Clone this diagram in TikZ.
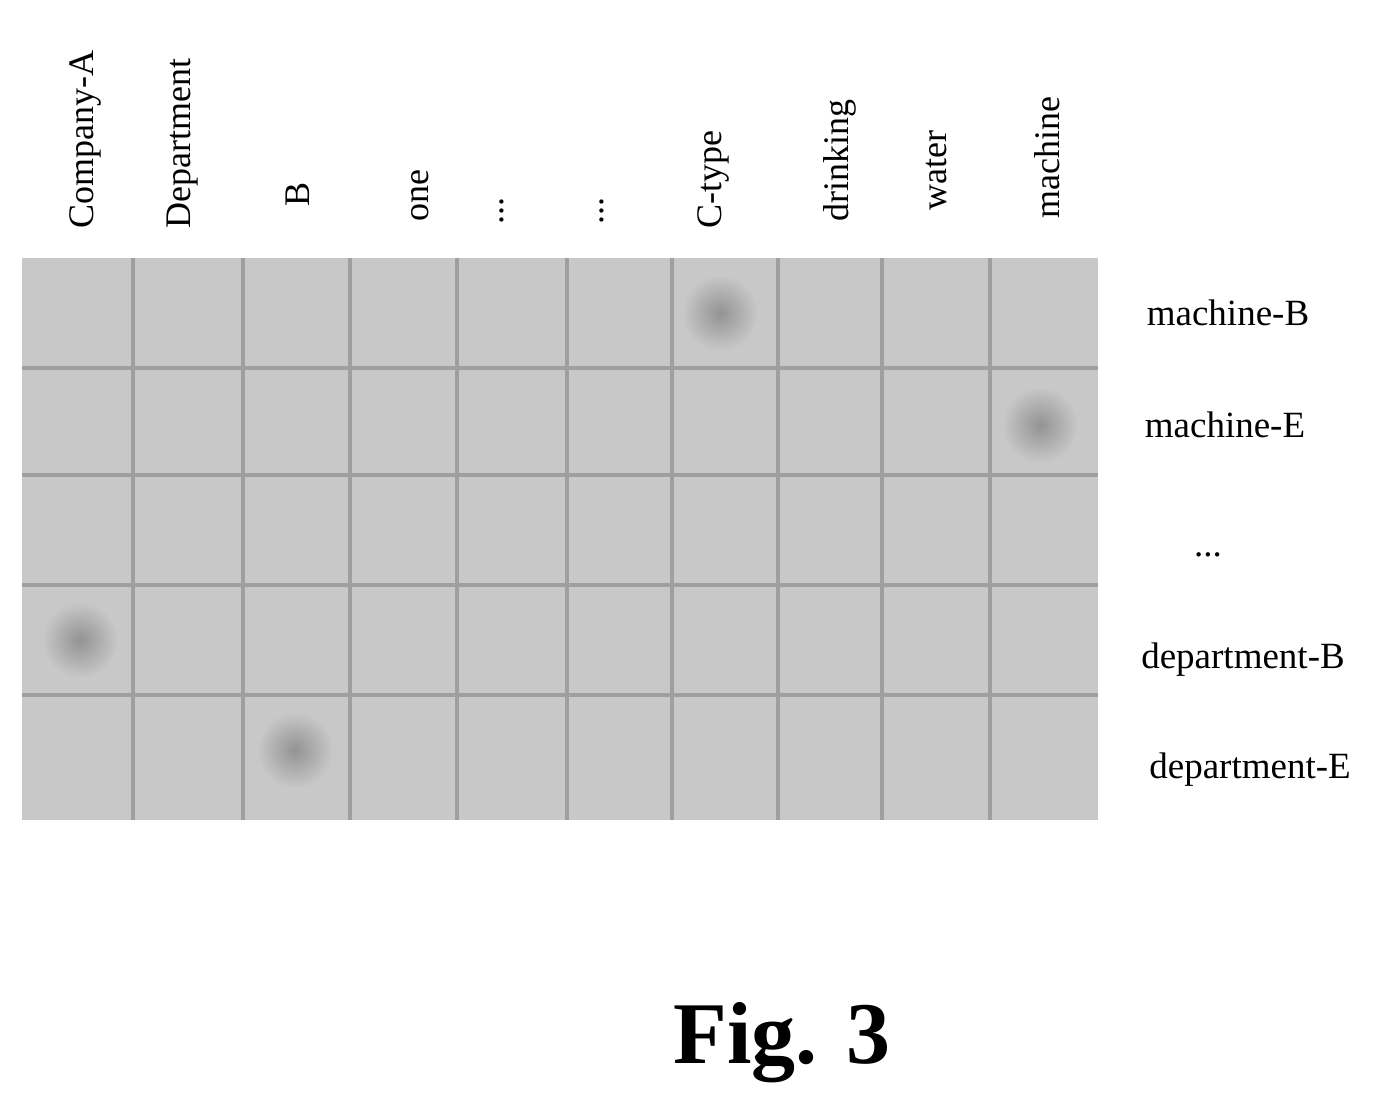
\documentclass[tikz,border=0pt]{standalone}
\usepackage{fontspec}
\setmainfont{Liberation Serif}
\begin{document}
\begin{tikzpicture}[x=1pt,y=-1pt,
  collab/.style={rotate=90,anchor=west,font=\fontsize{36}{40}\selectfont},
  rowlab/.style={font=\fontsize{37}{42}\selectfont},
  gridline/.style={draw=gray!75,line width=4pt}]
\useasboundingbox (0,0) rectangle (1382,1105);
\definecolor{cellgray}{RGB}{200,200,200}
\fill[cellgray] (22,258) rectangle (1098,820);
% dark spots
\foreach \cx/\cy in {720/313, 1040/425, 80/640, 295/750}
  \shade[inner color=gray!85, outer color=cellgray] (\cx,\cy) circle (38);
\foreach \gx in {133,243,350,457,567,672,778,882,990}
  \draw[gridline] (\gx,258) -- (\gx,820);
\foreach \gy in {368,475,585,695}
  \draw[gridline] (22,\gy) -- (1098,\gy);
\node[collab] (c1) at (85,232) {Company-A};
\node[collab] (c2) at (183,232) {Department};
\node[collab] (c3) at (298,210) {B};
\node[collab] (c4) at (420,225) {one};
\node[collab] (c5) at (502,228) {...};
\node[collab] (c6) at (602,228) {...};
\node[collab] (c7) at (713,232) {C-type};
\node[collab] (c8) at (840,225) {drinking};
\node[collab] (c9) at (937,214) {water};
\node[collab] (c10) at (1047,222) {machine};
\node[rowlab] (r1) at (1228,313) {machine-B};
\node[rowlab] (r2) at (1225,425) {machine-E};
\node[rowlab] (r3) at (1208,555) {...};
\node[rowlab] (r4) at (1243,660) {department-B};
\node[rowlab] (r5) at (1250,770) {department-E};
\node[font=\fontsize{88}{96}\selectfont\bfseries] (fig) at (782,1043) {Fig. 3};
\end{tikzpicture}
\end{document}
